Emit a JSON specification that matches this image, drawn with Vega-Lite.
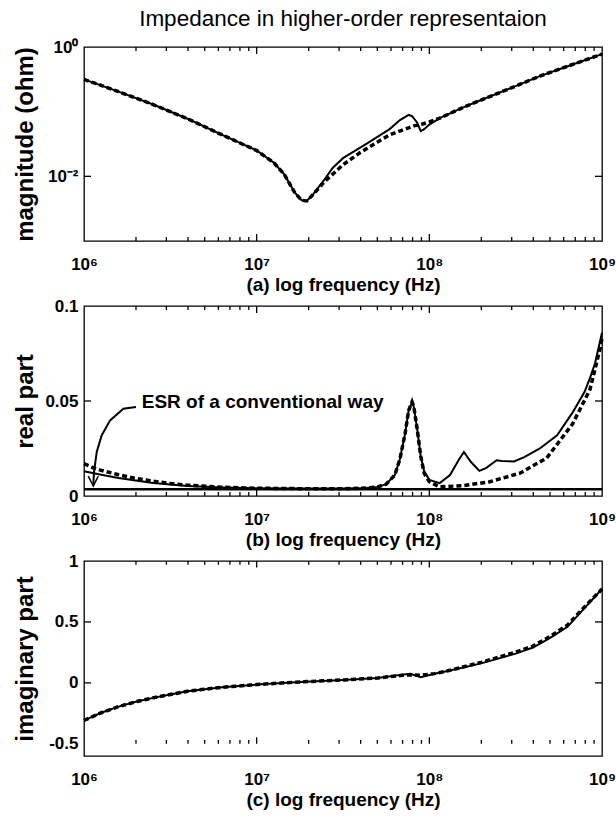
{
  "$schema": "https://vega.github.io/schema/vega-lite/v6.json",
  "padding": {"left": 12, "top": 6, "right": 8, "bottom": 6},
  "background": "white",
  "bounds": "flush",
  "spacing": 65,
  "config": {
    "view": {"stroke": "black", "strokeWidth": 1.3},
    "axis": {
      "grid": false, "domain": false, "ticks": false, "tickSize": 0,
      "labelFont": "Liberation Sans", "labelFontSize": 17, "labelFontWeight": "bold", "labelColor": "black",
      "titleFont": "Liberation Sans", "titleColor": "black", "labelFlush": false, "labelOverlap": false
    },
    "rule": {"color": "black", "strokeWidth": 1.3},
    "text": {"font": "Liberation Sans"}
  },
  "datasets": {
    "xticks": [
      {"t": 1e7, "k": "major"}, {"t": 1e8, "k": "major"},
      {"t": 2e6, "k": "minor"}, {"t": 3e6, "k": "minor"}, {"t": 4e6, "k": "minor"}, {"t": 5e6, "k": "minor"},
      {"t": 6e6, "k": "minor"}, {"t": 7e6, "k": "minor"}, {"t": 8e6, "k": "minor"}, {"t": 9e6, "k": "minor"},
      {"t": 2e7, "k": "minor"}, {"t": 3e7, "k": "minor"}, {"t": 4e7, "k": "minor"}, {"t": 5e7, "k": "minor"},
      {"t": 6e7, "k": "minor"}, {"t": 7e7, "k": "minor"}, {"t": 8e7, "k": "minor"}, {"t": 9e7, "k": "minor"},
      {"t": 2e8, "k": "minor"}, {"t": 3e8, "k": "minor"}, {"t": 4e8, "k": "minor"}, {"t": 5e8, "k": "minor"},
      {"t": 6e8, "k": "minor"}, {"t": 7e8, "k": "minor"}, {"t": 8e8, "k": "minor"}, {"t": 9e8, "k": "minor"}
    ],
    "magY": [{"t": 0.01}],
    "reY": [{"t": 0.05}],
    "imY": [{"t": 0}, {"t": 0.5}],
    "magMeas": [
      {"f": 1e6, "v": 0.316}, {"f": 1.585e6, "v": 0.204}, {"f": 2.512e6, "v": 0.129}, {"f": 3.981e6, "v": 0.0776},
      {"f": 6.31e6, "v": 0.0437}, {"f": 1e7, "v": 0.0251}, {"f": 1.259e7, "v": 0.0162}, {"f": 1.445e7, "v": 0.0107},
      {"f": 1.66e7, "v": 0.00562}, {"f": 1.82e7, "v": 0.00427}, {"f": 1.95e7, "v": 0.00417}, {"f": 2.089e7, "v": 0.00501},
      {"f": 2.455e7, "v": 0.00871}, {"f": 2.754e7, "v": 0.0135}, {"f": 3.162e7, "v": 0.0191}, {"f": 4.365e7, "v": 0.0324},
      {"f": 5.888e7, "v": 0.0537}, {"f": 6.761e7, "v": 0.0741}, {"f": 7.586e7, "v": 0.0891}, {"f": 7.943e7, "v": 0.0851},
      {"f": 8.511e7, "v": 0.0676}, {"f": 8.913e7, "v": 0.0501}, {"f": 9.333e7, "v": 0.0537}, {"f": 1e8, "v": 0.0631},
      {"f": 1.148e8, "v": 0.0794}, {"f": 1.585e8, "v": 0.1175}, {"f": 1.995e8, "v": 0.1514}, {"f": 2.818e8, "v": 0.2188},
      {"f": 4.365e8, "v": 0.355}, {"f": 6.761e8, "v": 0.537}, {"f": 1e9, "v": 0.776}
    ],
    "magModel": [
      {"f": 1e6, "v": 0.316}, {"f": 1.585e6, "v": 0.204}, {"f": 2.512e6, "v": 0.129}, {"f": 3.981e6, "v": 0.0776},
      {"f": 6.31e6, "v": 0.0437}, {"f": 1e7, "v": 0.0251}, {"f": 1.259e7, "v": 0.0162}, {"f": 1.445e7, "v": 0.0107},
      {"f": 1.66e7, "v": 0.00562}, {"f": 1.82e7, "v": 0.00427}, {"f": 1.95e7, "v": 0.00417}, {"f": 2.089e7, "v": 0.00501},
      {"f": 2.455e7, "v": 0.00813}, {"f": 3.162e7, "v": 0.0151}, {"f": 3.981e7, "v": 0.0234}, {"f": 5.012e7, "v": 0.0339},
      {"f": 5.888e7, "v": 0.0437}, {"f": 7.244e7, "v": 0.0537}, {"f": 8.128e7, "v": 0.0603}, {"f": 8.913e7, "v": 0.0631},
      {"f": 1e8, "v": 0.0692}, {"f": 1.148e8, "v": 0.0794}, {"f": 1.585e8, "v": 0.1175}, {"f": 1.995e8, "v": 0.1514},
      {"f": 2.818e8, "v": 0.2188}, {"f": 4.365e8, "v": 0.355}, {"f": 6.761e8, "v": 0.537}, {"f": 1e9, "v": 0.776}
    ],
    "reMeas": [
      {"f": 1e6, "v": 0.013}, {"f": 1.259e6, "v": 0.0112}, {"f": 1.585e6, "v": 0.0095}, {"f": 1.995e6, "v": 0.0081},
      {"f": 2.512e6, "v": 0.0069}, {"f": 3.162e6, "v": 0.006}, {"f": 3.981e6, "v": 0.0053}, {"f": 6.31e6, "v": 0.0045},
      {"f": 1e7, "v": 0.0041}, {"f": 1.995e7, "v": 0.0039}, {"f": 3.162e7, "v": 0.0039}, {"f": 4.365e7, "v": 0.0042},
      {"f": 5.012e7, "v": 0.0048}, {"f": 5.623e7, "v": 0.0062}, {"f": 6.31e7, "v": 0.011}, {"f": 6.761e7, "v": 0.0196},
      {"f": 7.244e7, "v": 0.033}, {"f": 7.586e7, "v": 0.045}, {"f": 7.943e7, "v": 0.0495}, {"f": 8.128e7, "v": 0.047},
      {"f": 8.511e7, "v": 0.035}, {"f": 8.913e7, "v": 0.021}, {"f": 9.333e7, "v": 0.013}, {"f": 1e8, "v": 0.0085},
      {"f": 1.148e8, "v": 0.0068}, {"f": 1.318e8, "v": 0.011}, {"f": 1.479e8, "v": 0.019}, {"f": 1.585e8, "v": 0.0232},
      {"f": 1.738e8, "v": 0.018}, {"f": 1.95e8, "v": 0.0132}, {"f": 2.138e8, "v": 0.0148}, {"f": 2.455e8, "v": 0.0188},
      {"f": 2.63e8, "v": 0.0184}, {"f": 3.09e8, "v": 0.0182}, {"f": 3.548e8, "v": 0.0205}, {"f": 4.365e8, "v": 0.025},
      {"f": 5.495e8, "v": 0.032}, {"f": 6.761e8, "v": 0.044}, {"f": 7.943e8, "v": 0.055}, {"f": 8.511e8, "v": 0.062},
      {"f": 9.12e8, "v": 0.07}, {"f": 9.772e8, "v": 0.082}, {"f": 1e9, "v": 0.086}
    ],
    "reModel": [
      {"f": 1e6, "v": 0.017}, {"f": 1.122e6, "v": 0.015}, {"f": 1.259e6, "v": 0.0135}, {"f": 1.585e6, "v": 0.0112},
      {"f": 1.995e6, "v": 0.0093}, {"f": 2.512e6, "v": 0.0078}, {"f": 3.162e6, "v": 0.0066}, {"f": 3.981e6, "v": 0.0057},
      {"f": 6.31e6, "v": 0.0046}, {"f": 1e7, "v": 0.0041}, {"f": 1.995e7, "v": 0.0038}, {"f": 3.162e7, "v": 0.0038},
      {"f": 4.365e7, "v": 0.0042}, {"f": 5.012e7, "v": 0.0048}, {"f": 5.623e7, "v": 0.0062}, {"f": 6.31e7, "v": 0.011},
      {"f": 6.761e7, "v": 0.0196}, {"f": 7.244e7, "v": 0.033}, {"f": 7.586e7, "v": 0.045}, {"f": 7.943e7, "v": 0.0495},
      {"f": 8.128e7, "v": 0.047}, {"f": 8.511e7, "v": 0.035}, {"f": 8.913e7, "v": 0.021}, {"f": 9.333e7, "v": 0.012},
      {"f": 1e8, "v": 0.0075}, {"f": 1.148e8, "v": 0.0048}, {"f": 1.585e8, "v": 0.0055}, {"f": 2.239e8, "v": 0.0075},
      {"f": 3.35e8, "v": 0.012}, {"f": 4.786e8, "v": 0.02}, {"f": 6.761e8, "v": 0.038}, {"f": 8.511e8, "v": 0.056},
      {"f": 9.772e8, "v": 0.078}, {"f": 1e9, "v": 0.083}
    ],
    "esr": [{"f": 1e6, "v": 0.0035}, {"f": 1e9, "v": 0.0035}],
    "arrow": [
      {"f": 1.132e6, "v": 0.0058}, {"f": 1.143e6, "v": 0.0126}, {"f": 1.185e6, "v": 0.0232}, {"f": 1.265e6, "v": 0.0319},
      {"f": 1.416e6, "v": 0.0398}, {"f": 1.69e6, "v": 0.0459}, {"f": 2.0e6, "v": 0.0468}
    ],
    "arrowHead": [{"f": 1.059e6, "v": 0.0105}, {"f": 1.132e6, "v": 0.0052}, {"f": 1.21e6, "v": 0.0105}],
    "note": [{"f": 2.16e6, "v": 0.0497, "t": "ESR of a conventional way"}],
    "imMeas": [
      {"f": 1e6, "v": -0.308}, {"f": 1.259e6, "v": -0.245}, {"f": 1.585e6, "v": -0.195}, {"f": 1.995e6, "v": -0.155},
      {"f": 2.512e6, "v": -0.123}, {"f": 3.162e6, "v": -0.095}, {"f": 3.981e6, "v": -0.068}, {"f": 6.31e6, "v": -0.036},
      {"f": 1e7, "v": -0.014}, {"f": 1.778e7, "v": 0.008}, {"f": 3.162e7, "v": 0.024}, {"f": 5.012e7, "v": 0.04},
      {"f": 6.761e7, "v": 0.064}, {"f": 7.762e7, "v": 0.075}, {"f": 8.913e7, "v": 0.046}, {"f": 1.072e8, "v": 0.075},
      {"f": 1.318e8, "v": 0.102}, {"f": 1.995e8, "v": 0.16}, {"f": 3.162e8, "v": 0.24}, {"f": 3.981e8, "v": 0.29},
      {"f": 5.012e8, "v": 0.37}, {"f": 6.31e8, "v": 0.46}, {"f": 7.943e8, "v": 0.615}, {"f": 1e9, "v": 0.77}
    ],
    "imModel": [
      {"f": 1e6, "v": -0.308}, {"f": 1.259e6, "v": -0.245}, {"f": 1.585e6, "v": -0.195}, {"f": 1.995e6, "v": -0.155},
      {"f": 2.512e6, "v": -0.123}, {"f": 3.162e6, "v": -0.095}, {"f": 3.981e6, "v": -0.068}, {"f": 6.31e6, "v": -0.036},
      {"f": 1e7, "v": -0.014}, {"f": 1.778e7, "v": 0.008}, {"f": 3.162e7, "v": 0.024}, {"f": 5.012e7, "v": 0.04},
      {"f": 6.761e7, "v": 0.06}, {"f": 7.762e7, "v": 0.066}, {"f": 8.913e7, "v": 0.062}, {"f": 1.072e8, "v": 0.076},
      {"f": 1.318e8, "v": 0.103}, {"f": 1.995e8, "v": 0.168}, {"f": 3.162e8, "v": 0.252}, {"f": 3.981e8, "v": 0.302},
      {"f": 5.012e8, "v": 0.382}, {"f": 6.31e8, "v": 0.474}, {"f": 7.943e8, "v": 0.625}, {"f": 1e9, "v": 0.77}
    ]
  },
  "vconcat": [
    {
      "width": 518, "height": 194,
      "title": {"text": "Impedance in higher-order representaion", "font": "Liberation Sans", "fontSize": 22.5, "fontWeight": "normal", "color": "black", "anchor": "middle", "frame": "group", "offset": 8},
      "resolve": {"axis": {"x": "independent", "y": "independent"}},
      "layer": [
        {
          "data": {"name": "magMeas"},
          "mark": {"type": "line", "color": "black", "strokeWidth": 2},
          "encoding": {
            "x": {"field": "f", "type": "quantitative", "scale": {"type": "log", "domain": [1e6, 1e9]},
              "axis": {"orient": "bottom", "values": [1e6, 1e7, 1e8, 1e9], "labelPadding": 15,
                "labelExpr": "datum.value < 5e6 ? '10⁶' : datum.value < 5e7 ? '10⁷' : datum.value < 5e8 ? '10⁸' : '10⁹'",
                "title": "(a) log frequency (Hz)", "titleFontSize": 19, "titleFontWeight": "bold", "titleY": 34, "titleBaseline": "top"}},
            "y": {"field": "v", "type": "quantitative", "scale": {"type": "log", "domain": [0.001, 1]},
              "axis": {"orient": "left", "values": [0.01, 1], "labelPadding": 6,
                "labelExpr": "datum.value < 0.1 ? '10⁻²' : '10⁰'",
                "title": "magnitude (ohm)", "titleFontSize": 24, "titleFontWeight": "bold", "titleX": -47, "titleBaseline": "bottom"}}
          }
        },
        {
          "data": {"name": "magModel"},
          "mark": {"type": "line", "color": "black", "strokeWidth": 3.5, "strokeDash": [5, 3]},
          "encoding": {"x": {"field": "f", "type": "quantitative", "axis": null}, "y": {"field": "v", "type": "quantitative", "axis": null}}
        },
        {
          "data": {"name": "xticks"}, "transform": [{"filter": "datum.k == 'major'"}],
          "mark": {"type": "rule"},
          "encoding": {"x": {"field": "t", "type": "quantitative", "axis": null}, "y": {"datum": 0.001, "type": "quantitative", "axis": null}, "y2": {"datum": 0.00128}}
        },
        {
          "data": {"name": "xticks"}, "transform": [{"filter": "datum.k == 'minor'"}],
          "mark": {"type": "rule"},
          "encoding": {"x": {"field": "t", "type": "quantitative", "axis": null}, "y": {"datum": 0.001, "type": "quantitative", "axis": null}, "y2": {"datum": 0.00115}}
        },
        {
          "data": {"name": "xticks"}, "transform": [{"filter": "datum.k == 'major'"}],
          "mark": {"type": "rule"},
          "encoding": {"x": {"field": "t", "type": "quantitative", "axis": null}, "y": {"datum": 1, "type": "quantitative", "axis": null}, "y2": {"datum": 0.78}}
        },
        {
          "data": {"name": "xticks"}, "transform": [{"filter": "datum.k == 'minor'"}],
          "mark": {"type": "rule"},
          "encoding": {"x": {"field": "t", "type": "quantitative", "axis": null}, "y": {"datum": 1, "type": "quantitative", "axis": null}, "y2": {"datum": 0.867}}
        },
        {
          "data": {"name": "magY"},
          "mark": {"type": "rule"},
          "encoding": {"y": {"field": "t", "type": "quantitative", "axis": null}, "x": {"datum": 1e6, "type": "quantitative", "axis": null}, "x2": {"datum": 1.098e6}}
        },
        {
          "data": {"name": "magY"},
          "mark": {"type": "rule"},
          "encoding": {"y": {"field": "t", "type": "quantitative", "axis": null}, "x": {"datum": 1e9, "type": "quantitative", "axis": null}, "x2": {"datum": 9.11e8}}
        }
      ]
    },
    {
      "width": 518, "height": 190,
      "resolve": {"axis": {"x": "independent", "y": "independent"}},
      "layer": [
        {
          "data": {"name": "reMeas"},
          "mark": {"type": "line", "color": "black", "strokeWidth": 2},
          "encoding": {
            "x": {"field": "f", "type": "quantitative", "scale": {"type": "log", "domain": [1e6, 1e9]},
              "axis": {"orient": "bottom", "values": [1e6, 1e7, 1e8, 1e9], "labelPadding": 15,
                "labelExpr": "datum.value < 5e6 ? '10⁶' : datum.value < 5e7 ? '10⁷' : datum.value < 5e8 ? '10⁸' : '10⁹'",
                "title": "(b) log frequency (Hz)", "titleFontSize": 19, "titleFontWeight": "bold", "titleY": 34, "titleBaseline": "top"}},
            "y": {"field": "v", "type": "quantitative", "scale": {"domain": [0, 0.1]},
              "axis": {"orient": "left", "values": [0, 0.05, 0.1], "labelPadding": 6, "format": "~g",
                "title": "real part", "titleFontSize": 24, "titleFontWeight": "bold", "titleX": -47, "titleBaseline": "bottom"}}
          }
        },
        {
          "data": {"name": "reModel"},
          "mark": {"type": "line", "color": "black", "strokeWidth": 3.5, "strokeDash": [5, 3]},
          "encoding": {"x": {"field": "f", "type": "quantitative", "axis": null}, "y": {"field": "v", "type": "quantitative", "axis": null}}
        },
        {
          "data": {"name": "esr"},
          "mark": {"type": "line", "color": "black", "strokeWidth": 2.5},
          "encoding": {"x": {"field": "f", "type": "quantitative", "axis": null}, "y": {"field": "v", "type": "quantitative", "axis": null}}
        },
        {
          "data": {"name": "arrow"},
          "mark": {"type": "line", "color": "black", "strokeWidth": 2},
          "encoding": {"x": {"field": "f", "type": "quantitative", "axis": null}, "y": {"field": "v", "type": "quantitative", "axis": null}}
        },
        {
          "data": {"name": "arrowHead"},
          "mark": {"type": "line", "color": "black", "strokeWidth": 1.5},
          "encoding": {"x": {"field": "f", "type": "quantitative", "axis": null}, "y": {"field": "v", "type": "quantitative", "axis": null}}
        },
        {
          "data": {"name": "note"},
          "mark": {"type": "text", "align": "left", "baseline": "middle", "fontSize": 19, "fontWeight": "bold", "color": "black"},
          "encoding": {"x": {"field": "f", "type": "quantitative", "axis": null}, "y": {"field": "v", "type": "quantitative", "axis": null}, "text": {"field": "t"}}
        },
        {
          "data": {"name": "xticks"}, "transform": [{"filter": "datum.k == 'major'"}],
          "mark": {"type": "rule"},
          "encoding": {"x": {"field": "t", "type": "quantitative", "axis": null}, "y": {"datum": 0, "type": "quantitative", "axis": null}, "y2": {"datum": 0.0037}}
        },
        {
          "data": {"name": "xticks"}, "transform": [{"filter": "datum.k == 'minor'"}],
          "mark": {"type": "rule"},
          "encoding": {"x": {"field": "t", "type": "quantitative", "axis": null}, "y": {"datum": 0, "type": "quantitative", "axis": null}, "y2": {"datum": 0.0021}}
        },
        {
          "data": {"name": "xticks"}, "transform": [{"filter": "datum.k == 'major'"}],
          "mark": {"type": "rule"},
          "encoding": {"x": {"field": "t", "type": "quantitative", "axis": null}, "y": {"datum": 0.1, "type": "quantitative", "axis": null}, "y2": {"datum": 0.0963}}
        },
        {
          "data": {"name": "xticks"}, "transform": [{"filter": "datum.k == 'minor'"}],
          "mark": {"type": "rule"},
          "encoding": {"x": {"field": "t", "type": "quantitative", "axis": null}, "y": {"datum": 0.1, "type": "quantitative", "axis": null}, "y2": {"datum": 0.0979}}
        },
        {
          "data": {"name": "reY"},
          "mark": {"type": "rule"},
          "encoding": {"y": {"field": "t", "type": "quantitative", "axis": null}, "x": {"datum": 1e6, "type": "quantitative", "axis": null}, "x2": {"datum": 1.098e6}}
        },
        {
          "data": {"name": "reY"},
          "mark": {"type": "rule"},
          "encoding": {"y": {"field": "t", "type": "quantitative", "axis": null}, "x": {"datum": 1e9, "type": "quantitative", "axis": null}, "x2": {"datum": 9.11e8}}
        }
      ]
    },
    {
      "width": 518, "height": 195,
      "resolve": {"axis": {"x": "independent", "y": "independent"}},
      "layer": [
        {
          "data": {"name": "imMeas"},
          "mark": {"type": "line", "color": "black", "strokeWidth": 2},
          "encoding": {
            "x": {"field": "f", "type": "quantitative", "scale": {"type": "log", "domain": [1e6, 1e9]},
              "axis": {"orient": "bottom", "values": [1e6, 1e7, 1e8, 1e9], "labelPadding": 15,
                "labelExpr": "datum.value < 5e6 ? '10⁶' : datum.value < 5e7 ? '10⁷' : datum.value < 5e8 ? '10⁸' : '10⁹'",
                "title": "(c) log frequency (Hz)", "titleFontSize": 19, "titleFontWeight": "bold", "titleY": 34, "titleBaseline": "top"}},
            "y": {"field": "v", "type": "quantitative", "scale": {"domain": [-0.5, 1]},
              "axis": {"orient": "left", "values": [-0.5, 0, 0.5, 1], "labelPadding": 6,
                "labelExpr": "replace(format(datum.value, '~g'), '−', '-')",
                "title": "imaginary part", "titleFontSize": 24, "titleFontWeight": "bold", "titleX": -47, "titleBaseline": "bottom"}}
          }
        },
        {
          "data": {"name": "imModel"},
          "mark": {"type": "line", "color": "black", "strokeWidth": 3.5, "strokeDash": [5, 3]},
          "encoding": {"x": {"field": "f", "type": "quantitative", "axis": null}, "y": {"field": "v", "type": "quantitative", "axis": null}}
        },
        {
          "data": {"name": "xticks"}, "transform": [{"filter": "datum.k == 'major'"}],
          "mark": {"type": "rule"},
          "encoding": {"x": {"field": "t", "type": "quantitative", "axis": null}, "y": {"datum": -0.5, "type": "quantitative", "axis": null}, "y2": {"datum": -0.446}}
        },
        {
          "data": {"name": "xticks"}, "transform": [{"filter": "datum.k == 'minor'"}],
          "mark": {"type": "rule"},
          "encoding": {"x": {"field": "t", "type": "quantitative", "axis": null}, "y": {"datum": -0.5, "type": "quantitative", "axis": null}, "y2": {"datum": -0.469}}
        },
        {
          "data": {"name": "xticks"}, "transform": [{"filter": "datum.k == 'major'"}],
          "mark": {"type": "rule"},
          "encoding": {"x": {"field": "t", "type": "quantitative", "axis": null}, "y": {"datum": 1, "type": "quantitative", "axis": null}, "y2": {"datum": 0.946}}
        },
        {
          "data": {"name": "xticks"}, "transform": [{"filter": "datum.k == 'minor'"}],
          "mark": {"type": "rule"},
          "encoding": {"x": {"field": "t", "type": "quantitative", "axis": null}, "y": {"datum": 1, "type": "quantitative", "axis": null}, "y2": {"datum": 0.969}}
        },
        {
          "data": {"name": "imY"},
          "mark": {"type": "rule"},
          "encoding": {"y": {"field": "t", "type": "quantitative", "axis": null}, "x": {"datum": 1e6, "type": "quantitative", "axis": null}, "x2": {"datum": 1.098e6}}
        },
        {
          "data": {"name": "imY"},
          "mark": {"type": "rule"},
          "encoding": {"y": {"field": "t", "type": "quantitative", "axis": null}, "x": {"datum": 1e9, "type": "quantitative", "axis": null}, "x2": {"datum": 9.11e8}}
        }
      ]
    }
  ]
}
